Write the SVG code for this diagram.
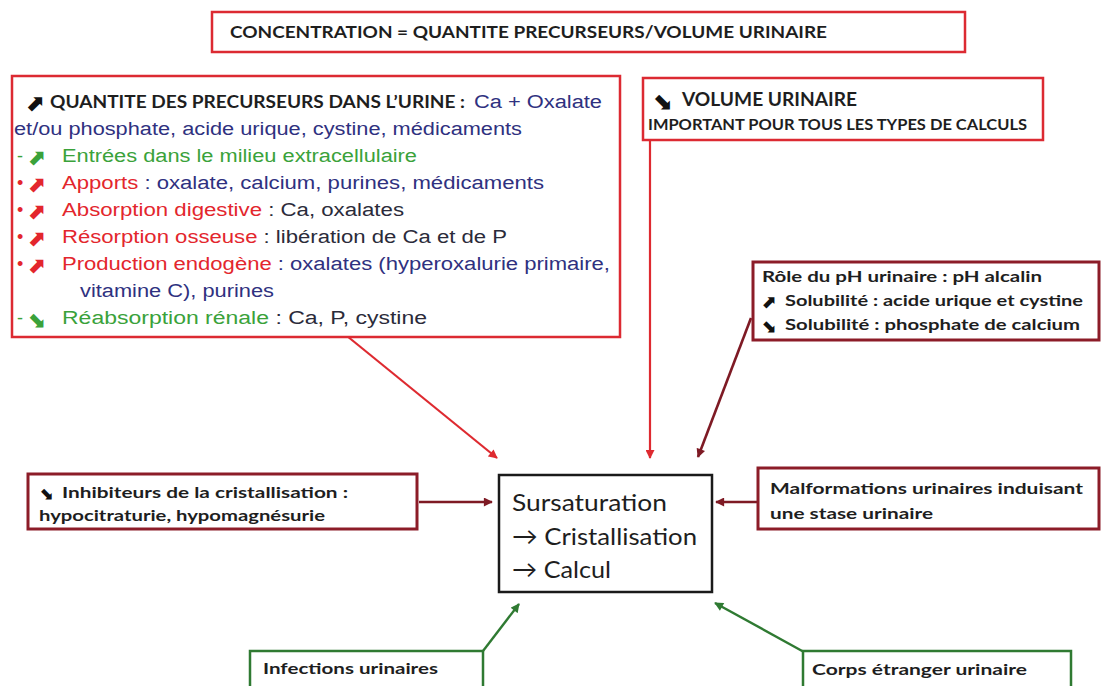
<svg xmlns="http://www.w3.org/2000/svg" width="1106" height="686" viewBox="0 0 1106 686">
<defs>
<style>
.bg{fill:#ffffff}
.rbox{fill:#ffffff;stroke:#dc2a32;stroke-width:2.5}
.dbox{fill:#ffffff;stroke:#8c1c28;stroke-width:3}
.gbox{fill:#ffffff;stroke:#2f7a32;stroke-width:2.5}
.kbox{fill:#ffffff;stroke:#1a1a1a;stroke-width:2.5}
.cal{font-family:Lato,"Open Sans","DejaVu Sans",sans-serif;font-weight:700;fill:#1e1e1e}
.calr{font-family:Lato,"Open Sans","DejaVu Sans",sans-serif;font-weight:400;fill:#1e1e1e}
.ar{font-family:"Liberation Sans",Arial,sans-serif;font-size:18px}
.ico{font-family:"DejaVu Sans",sans-serif;font-weight:700}
.red{fill:#e3262d}
.navy{fill:#2f3180}
.dk{fill:#2b2b3a}
.grn{fill:#3aa23a}
.blk{fill:#111111}
.cr{stroke:#de2a30;stroke-width:2.2;fill:none}
.cd{stroke:#7e1a24;stroke-width:2.6;fill:none}
.cg{stroke:#2f7a32;stroke-width:2.4;fill:none}
</style>
<marker id="mr" viewBox="0 0 10 10" refX="9" refY="5" markerWidth="10" markerHeight="9" markerUnits="userSpaceOnUse" orient="auto"><path d="M0,0 L10,5 L0,10 z" fill="#de2a30"/></marker>
<marker id="md" viewBox="0 0 10 10" refX="9" refY="5" markerWidth="10" markerHeight="9" markerUnits="userSpaceOnUse" orient="auto"><path d="M0,0 L10,5 L0,10 z" fill="#7e1a24"/></marker>
<marker id="mg" viewBox="0 0 10 10" refX="9" refY="5" markerWidth="10" markerHeight="9" markerUnits="userSpaceOnUse" orient="auto"><path d="M0,0 L10,5 L0,10 z" fill="#2f7a32"/></marker>
</defs>
<rect class="bg" x="0" y="0" width="1106" height="686"/>

<g id="connectors">
<line class="cr" x1="347" y1="336" x2="497" y2="458" marker-end="url(#mr)"/>
<line class="cr" x1="650" y1="141" x2="650" y2="458" marker-end="url(#mr)"/>
<line class="cd" x1="751" y1="318" x2="698" y2="457" marker-end="url(#md)"/>
<line class="cd" x1="419" y1="502" x2="492" y2="502" stroke-width="3.2" marker-end="url(#md)"/>
<line class="cd" x1="757" y1="502" x2="716" y2="502" stroke-width="3.2" marker-end="url(#md)"/>
<line class="cg" x1="483" y1="651" x2="519" y2="604" marker-end="url(#mg)"/>
<line class="cg" x1="804" y1="652" x2="715" y2="603" marker-end="url(#mg)"/>
</g>

<g id="concentration">
<rect class="rbox" x="212" y="12" width="753" height="40"/>
<text class="cal" x="230" y="38" font-size="17" textLength="597" lengthAdjust="spacingAndGlyphs">CONCENTRATION = QUANTITE PRECURSEURS/VOLUME URINAIRE</text>
</g>

<g id="precurseurs">
<rect class="rbox" x="12" y="76" width="608" height="261"/>
<text class="ico blk" x="25" y="111" font-size="23">⬈</text>
<text class="cal" x="50" y="108" font-size="16.5" textLength="415" lengthAdjust="spacingAndGlyphs">QUANTITE DES PRECURSEURS DANS L’URINE :</text>
<text class="ar navy" x="474" y="108" textLength="128" lengthAdjust="spacingAndGlyphs">Ca + Oxalate</text>
<text class="ar navy" x="14" y="135" textLength="508" lengthAdjust="spacingAndGlyphs">et/ou phosphate, acide urique, cystine, médicaments</text>

<text class="ar grn" x="17" y="162">-</text>
<text class="ico grn" x="27" y="165" font-size="22">⬈</text>
<text class="ar grn" x="62" y="162" textLength="355" lengthAdjust="spacingAndGlyphs">Entrées dans le milieu extracellulaire</text>

<text class="ar red" x="17" y="189">•</text>
<text class="ico red" x="27" y="192" font-size="22">⬈</text>
<text class="ar" x="62" y="189" textLength="482" lengthAdjust="spacingAndGlyphs"><tspan class="red">Apports</tspan><tspan class="navy"> : oxalate, calcium, purines, médicaments</tspan></text>

<text class="ar red" x="17" y="216">•</text>
<text class="ico red" x="27" y="219" font-size="22">⬈</text>
<text class="ar" x="62" y="216" textLength="342" lengthAdjust="spacingAndGlyphs"><tspan class="red">Absorption digestive</tspan><tspan class="dk"> : Ca, oxalates</tspan></text>

<text class="ar red" x="17" y="243">•</text>
<text class="ico red" x="27" y="246" font-size="22">⬈</text>
<text class="ar" x="62" y="243" textLength="445" lengthAdjust="spacingAndGlyphs"><tspan class="red">Résorption osseuse</tspan><tspan class="dk"> : libération de Ca et de P</tspan></text>

<text class="ar red" x="17" y="270">•</text>
<text class="ico red" x="27" y="273" font-size="22">⬈</text>
<text class="ar" x="62" y="270" textLength="548" lengthAdjust="spacingAndGlyphs"><tspan class="red">Production endogène</tspan><tspan class="navy"> : oxalates (hyperoxalurie primaire,</tspan></text>
<text class="ar navy" x="80" y="297" textLength="194" lengthAdjust="spacingAndGlyphs">vitamine C), purines</text>

<text class="ar grn" x="17" y="324">-</text>
<text class="ico grn" x="27" y="327" font-size="22">⬊</text>
<text class="ar" x="62" y="324" textLength="365" lengthAdjust="spacingAndGlyphs"><tspan class="grn">Réabsorption rénale</tspan><tspan class="dk"> : Ca, P, cystine</tspan></text>
</g>

<g id="volume">
<rect class="rbox" x="643" y="78" width="400" height="62"/>
<text class="ico blk" x="652" y="109" font-size="24">⬊</text>
<text class="cal" x="682" y="106" font-size="18" textLength="175" lengthAdjust="spacingAndGlyphs">VOLUME URINAIRE</text>
<text class="cal" x="648" y="130" font-size="15" textLength="379" lengthAdjust="spacingAndGlyphs">IMPORTANT POUR TOUS LES TYPES DE CALCULS</text>
</g>

<g id="ph">
<rect class="dbox" x="753" y="262" width="346" height="78"/>
<text class="cal" x="762" y="282" font-size="16" textLength="280" lengthAdjust="spacingAndGlyphs">Rôle du pH urinaire : pH alcalin</text>
<text class="ico blk" x="761" y="308" font-size="18">⬈</text>
<text class="cal" x="785" y="306" font-size="16" textLength="298" lengthAdjust="spacingAndGlyphs">Solubilité : acide urique et cystine</text>
<text class="ico blk" x="761" y="332" font-size="18">⬊</text>
<text class="cal" x="785" y="330" font-size="16" textLength="295" lengthAdjust="spacingAndGlyphs">Solubilité : phosphate de calcium</text>
</g>

<g id="inhibiteurs">
<rect class="dbox" x="28" y="474" width="389" height="55"/>
<text class="ico blk" x="39" y="499" font-size="17">⬊</text>
<text class="cal" x="62" y="498" font-size="16" textLength="286" lengthAdjust="spacingAndGlyphs">Inhibiteurs de la cristallisation :</text>
<text class="cal" x="39" y="521" font-size="16" textLength="286" lengthAdjust="spacingAndGlyphs">hypocitraturie, hypomagnésurie</text>
</g>

<g id="sursaturation">
<rect class="kbox" x="499" y="475" width="213" height="117"/>
<text class="calr" x="512" y="511" font-size="24" textLength="155" lengthAdjust="spacingAndGlyphs">Sursaturation</text>
<text class="calr" x="512" y="545" font-size="24" textLength="185" lengthAdjust="spacingAndGlyphs">→ Cristallisation</text>
<text class="calr" x="512" y="578" font-size="24" textLength="99" lengthAdjust="spacingAndGlyphs">→ Calcul</text>
</g>

<g id="malformations">
<rect class="dbox" x="758" y="468" width="341" height="61"/>
<text class="cal" x="770" y="494" font-size="16" textLength="313" lengthAdjust="spacingAndGlyphs">Malformations urinaires induisant</text>
<text class="cal" x="770" y="519" font-size="16" textLength="163" lengthAdjust="spacingAndGlyphs">une stase urinaire</text>
</g>

<g id="infections">
<rect class="gbox" x="250" y="651" width="233" height="40"/>
<text class="cal" x="263" y="674" font-size="16" textLength="175" lengthAdjust="spacingAndGlyphs">Infections urinaires</text>
</g>

<g id="corps">
<rect class="gbox" x="803" y="651" width="268" height="40"/>
<text class="cal" x="812" y="675" font-size="16" textLength="215" lengthAdjust="spacingAndGlyphs">Corps étranger urinaire</text>
</g>
</svg>
